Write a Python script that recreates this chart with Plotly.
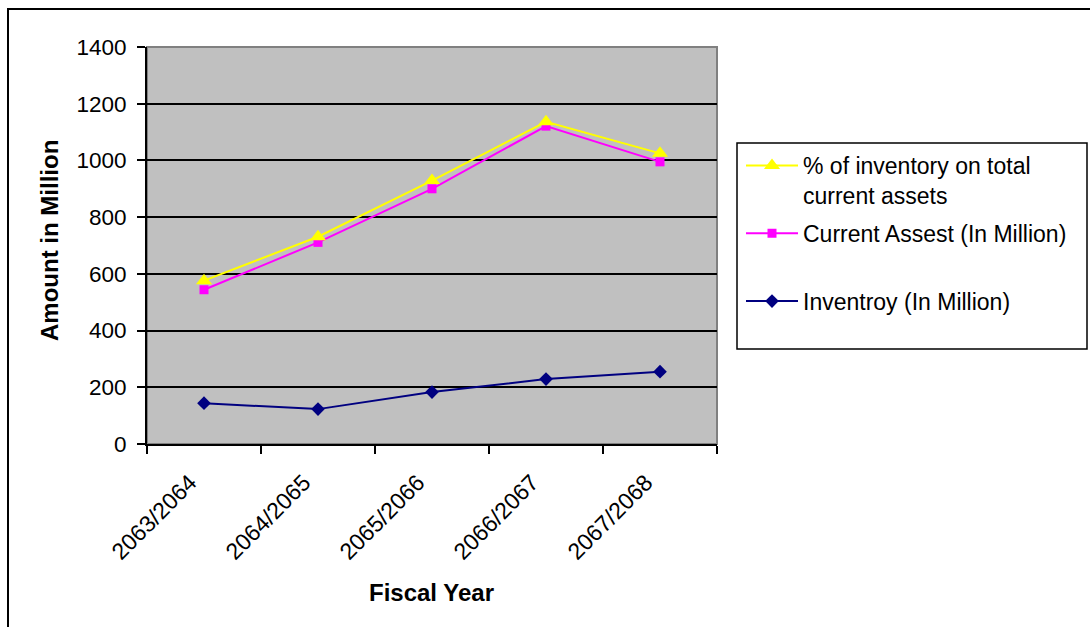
import plotly.graph_objects as go

# Fiscal years (Nepali calendar) and values in million
years = ["2063/2064", "2064/2065", "2065/2066", "2066/2067", "2067/2068"]
pct_inventory_series = [576, 731, 929, 1136, 1025]
current_assets = [544, 711, 900, 1121, 995]
inventory = [144, 123, 183, 229, 255]

FONT = "Liberation Sans, Arial, sans-serif"
W, H = 1090, 627
L, R, T, B = 147, 373, 47, 183
PW, PH = W - L - R, H - T - B


def px_x(px):
    return (px - L) / PW


def px_y(py):
    return (H - B - py) / PH


fig = go.Figure()

fig.add_trace(go.Scatter(
    x=years, y=inventory, mode="lines+markers",
    name="Inventroy (In Million)", legendrank=3, legendgroup="inv",
    line=dict(color="#000080", width=2),
    marker=dict(symbol="diamond", size=10.5, color="#000080"),
))
fig.add_trace(go.Scatter(
    x=years, y=current_assets, mode="lines+markers",
    name="Current Assest (In Million)<br>\u00a0", legendrank=2, legendgroup="ca",
    line=dict(color="#FF00FF", width=2),
    marker=dict(symbol="square", size=9, color="#FF00FF"),
))
fig.add_trace(go.Scatter(
    x=years, y=pct_inventory_series, mode="lines+markers",
    name="% of inventory on total<br>current assets", legendrank=1, legendgroup="pct",
    line=dict(color="#FFFF00", width=2),
    marker=dict(symbol="triangle-up", size=14, color="#FFFF00"),
))

fig.update_layout(
    width=W, height=H,
    margin=dict(l=L, r=R, t=T, b=B, autoexpand=False),
    paper_bgcolor="white",
    plot_bgcolor="#C0C0C0",
    font=dict(family=FONT, size=22, color="black"),
    showlegend=True,
    legend=dict(
        x=px_x(741), y=px_y(144), xanchor="left", yanchor="top",
        bgcolor="rgba(0,0,0,0)", borderwidth=0,
        font=dict(family=FONT, size=23, color="black"),
        valign="top", tracegroupgap=5, itemwidth=52,
    ),
    xaxis=dict(
        type="category", range=[-0.5, 4.5], tickson="boundaries",
        ticks="outside", ticklen=8, tickwidth=1.5, tickcolor="black",
        tickangle=-45, ticklabelshift=-14, ticklabelstandoff=14,
        showgrid=False, zeroline=False,
        showline=True, linecolor="black", linewidth=2,
        tickfont=dict(family=FONT, size=23),
    ),
    yaxis=dict(
        range=[0, 1400], dtick=200, tick0=0,
        ticks="outside", ticklen=8, tickwidth=1.5, tickcolor="black",
        ticklabelstandoff=6,
        showgrid=True, gridcolor="black", gridwidth=2,
        zeroline=False, showline=True, linecolor="black", linewidth=2,
        tickfont=dict(family=FONT, size=22.5),
    ),
    shapes=[
        # plot-area frame (top and right edges visible)
        dict(type="rect", xref="x domain", yref="y domain",
             x0=0, x1=1, y0=0, y1=1, layer="below",
             line=dict(color="#808080", width=2)),
        # legend box
        dict(type="rect", xref="paper", yref="paper",
             x0=px_x(737), x1=px_x(1087), y0=px_y(349), y1=px_y(143),
             line=dict(color="black", width=1.5)),
        # chart-area frame
        dict(type="rect", xref="paper", yref="paper",
             x0=px_x(8), x1=px_x(1100), y0=px_y(640), y1=px_y(9),
             line=dict(color="black", width=2)),
    ],
    annotations=[
        dict(text="<b>Amount in Million</b>", xref="paper", yref="paper",
             x=px_x(49), y=px_y(241), textangle=-90, showarrow=False,
             xanchor="center", yanchor="middle",
             font=dict(family=FONT, size=24)),
        dict(text="<b>Fiscal Year</b>", xref="paper", yref="paper",
             x=px_x(431), y=px_y(592), showarrow=False,
             xanchor="center", yanchor="middle",
             font=dict(family=FONT, size=24)),
    ],
)

fig.write_html("out.html")
